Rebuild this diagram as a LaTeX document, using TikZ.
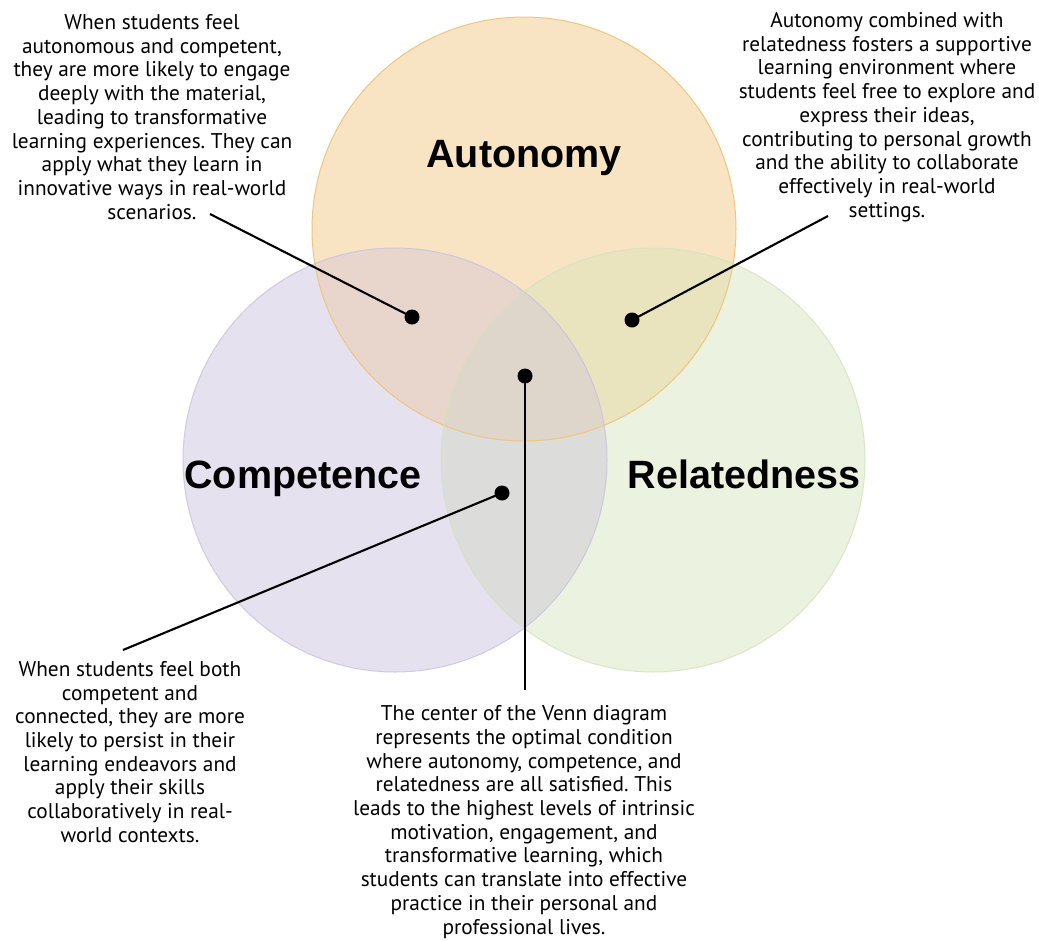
\documentclass[tikz,border=0pt]{standalone}
\usepackage{fontspec}
\setmainfont{PT Sans}
\newfontfamily\headfont{Liberation Sans}
\usetikzlibrary{calc}

% region colours of the three-set diagram
\definecolor{autC}{HTML}{F8E4C2}
\definecolor{comC}{HTML}{E5E1EF}
\definecolor{relC}{HTML}{EBF2E0}
\definecolor{acC}{HTML}{E8D6CC}
\definecolor{arC}{HTML}{E9E3BE}
\definecolor{crC}{HTML}{DCDCDA}
\definecolor{acrC}{HTML}{DED6CB}
\definecolor{autL}{HTML}{F0C57E}
\definecolor{comL}{HTML}{C9C1E0}
\definecolor{relL}{HTML}{D3E3BC}

\tikzset{
  setlabel/.style={font=\headfont\bfseries\fontsize{39.5}{41}\selectfont, anchor=base, inner sep=0pt},
  note/.style={font=\frenchspacing\fontsize{21.3}{23.7}\selectfont, align=center, inner sep=0pt, text=black},
  pin/.style={circle, fill=black, inner sep=0pt, minimum size=15pt},
  leader/.style={draw=black, line width=2.1pt},
}

\begin{document}
\begin{tikzpicture}[x=1pt, y=-1pt]
\useasboundingbox[fill=white] (0,0) rectangle (1039,940);

\def\R{212}
\coordinate (aut) at (524,229);
\coordinate (com) at (395,460);
\coordinate (rel) at (653,460);

% single-set areas
\fill[autC] (aut) circle (\R);
\fill[comC] (com) circle (\R);
\fill[relC] (rel) circle (\R);
% pairwise overlaps
\begin{scope}
  \clip (aut) circle (\R);
  \fill[acC] (com) circle (\R);
  \fill[arC] (rel) circle (\R);
\end{scope}
\begin{scope}
  \clip (com) circle (\R);
  \fill[crC] (rel) circle (\R);
\end{scope}
% centre overlap
\begin{scope}
  \clip (aut) circle (\R);
  \clip (com) circle (\R);
  \fill[acrC] (rel) circle (\R);
\end{scope}
% outlines
\draw[autL, line width=1pt] (aut) circle (\R);
\draw[comL, line width=1pt, opacity=0.8] (com) circle (\R);
\draw[relL, line width=1pt, opacity=0.8] (rel) circle (\R);

% set names
\node[setlabel] (autname) at (524,167) {Autonomy};
\node[setlabel] (comname) at (303,488) {Competence};
\node[setlabel] (relname) at (744,488) {Relatedness};

% pins
\node[pin] (pAC) at (412,317) {};
\node[pin] (pAR) at (632,320) {};
\node[pin] (pCR) at (502,493) {};
\node[pin] (pACR) at (525,376) {};

% explanatory notes
\node[note] (nAC) at (152,117) {When students feel\\autonomous and competent,\\they are more likely to engage\\deeply with the material,\\leading to transformative\\learning experiences. They can\\apply what they learn in\\innovative ways in real-world\\scenarios.};
\node[note] (nAR) at (887,117) {Autonomy combined with\\relatedness fosters a supportive\\learning environment where\\students feel free to explore and\\express their ideas,\\contributing to personal growth\\and the ability to collaborate\\effectively in real-world\\settings.};
\node[note] (nCR) at (130,752) {When students feel both\\competent and\\connected, they are more\\likely to persist in their\\learning endeavors and\\apply their skills\\collaboratively in real-\\world contexts.};
\node[note] (nACR) at (524,822) {The center of the Venn diagram\\represents the optimal condition\\where autonomy, competence, and\\relatedness are all satisfied. This\\leads to the highest levels of intrinsic\\motivation, engagement, and\\transformative learning, which\\students can translate into effective\\practice in their personal and\\professional lives.};

% leader line ends
\coordinate (eAC) at (210,214);
\coordinate (eAR) at (828,216);
\coordinate (eCR) at (123,650);
\coordinate (eACR) at (525,690);

\draw[leader] (pAC.center) -- (eAC);
\draw[leader] (pAR.center) -- (eAR);
\draw[leader] (pCR.center) -- (eCR);
\draw[leader] (pACR.center) -- (eACR);
\end{tikzpicture}
\end{document}
